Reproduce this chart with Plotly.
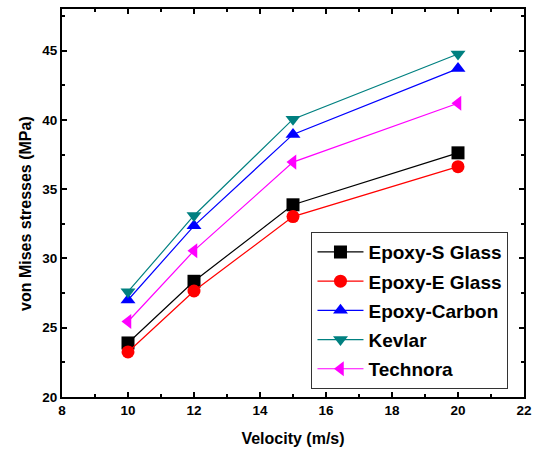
import plotly.graph_objects as go

velocity = [10, 12, 15, 20]
epoxy_s_glass = [23.9, 28.35, 33.87, 37.62]
epoxy_e_glass = [23.25, 27.65, 33.02, 36.62]
epoxy_carbon = [27.0, 32.35, 38.95, 43.7]
kevlar = [27.6, 33.1, 40.05, 44.75]
technora = [25.45, 30.56, 36.95, 41.2]

series = [
    ("Epoxy-S Glass", epoxy_s_glass, "black", "square"),
    ("Epoxy-E Glass", epoxy_e_glass, "red", "circle"),
    ("Epoxy-Carbon", epoxy_carbon, "blue", "triangle-up"),
    ("Kevlar", kevlar, "#008080", "triangle-down"),
    ("Technora", technora, "magenta", "triangle-left"),
]

fig = go.Figure()
for name, vals, color, sym in series:
    fig.add_trace(go.Scatter(
        x=velocity, y=vals, name=name, mode="lines+markers", legendgroup=name,
        line=dict(color=color, width=1.2),
        marker=dict(symbol=sym, size=13, color=color),
    ))

font = "Liberation Sans, Arial, sans-serif"
axis_common = dict(
    showline=True, linecolor="black", linewidth=2, mirror="allticks",
    ticks="inside", ticklen=5, tickwidth=2, tickcolor="black",
    showgrid=False, zeroline=False,
    tickfont=dict(family=font, size=13.5, color="black", weight="bold"),
)

fig.update_layout(
    width=539, height=456,
    margin=dict(l=62, r=13, t=7, b=59),
    plot_bgcolor="white", paper_bgcolor="white",
    xaxis=dict(range=[8, 22], dtick=2, tick0=8,
               minor=dict(dtick=1, ticks="inside", ticklen=3, tickwidth=1.5, tickcolor="black"),
               title=dict(text="Velocity (m/s)", standoff=16,
                          font=dict(family=font, size=16, color="black", weight="bold")),
               **axis_common),
    yaxis=dict(range=[20, 48], dtick=5, tick0=20,
               minor=dict(dtick=2.5, ticks="inside", ticklen=3, tickwidth=1.5, tickcolor="black"),
               **axis_common),
    annotations=[dict(
        text="von Mises stresses (MPa)", textangle=-90,
        xref="paper", yref="paper", x=-0.0776, y=0.472,
        xanchor="center", yanchor="middle", showarrow=False,
        font=dict(family=font, size=16, color="black", weight="bold"),
    )],
    legend=dict(x=0.540, y=0.425, xanchor="left", yanchor="top",
                bordercolor="#333333", borderwidth=1, bgcolor="white",
                font=dict(family=font, size=19, color="black", weight="bold"),
                tracegroupgap=1.5, itemwidth=46),
    showlegend=True,
)

fig.write_html("out.html")
